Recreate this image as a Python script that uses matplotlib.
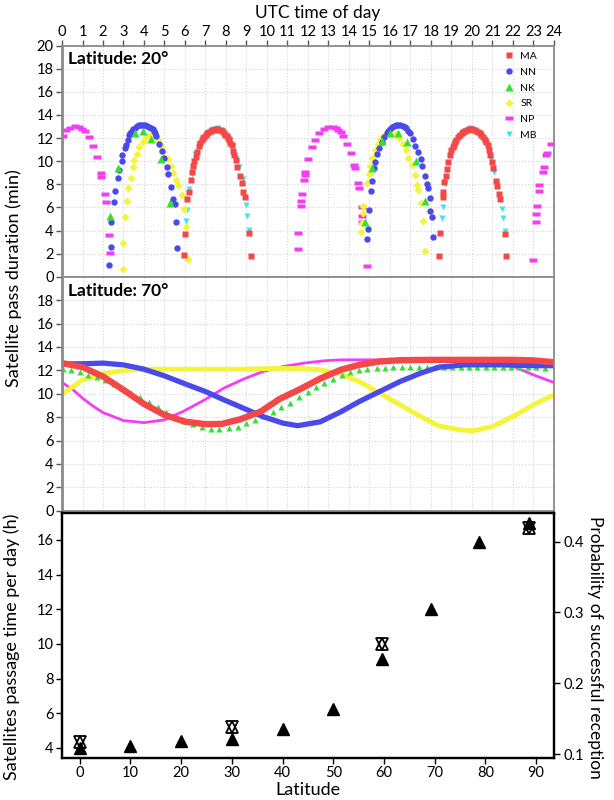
import matplotlib
matplotlib.use('Agg')
import matplotlib.pyplot as plt
from matplotlib.path import Path

plt.rcParams['font.family'] = ['Lato', 'DejaVu Sans']

# ---------------- Latitude 20 deg (scatter of passes) ----------------
MA20_t = [5.95, 6.00, 6.11, 6.20, 6.28, 6.34, 6.40, 6.44, 6.52, 6.60, 6.68, 6.75, 6.81, 6.88, 6.94, 7.02,
          7.09, 7.17, 7.26, 7.34, 7.41, 7.50, 7.58, 7.66, 7.74, 7.82, 7.90, 7.97, 8.04, 8.10, 8.16, 8.22,
          8.28, 8.35, 8.41, 8.49, 8.55, 8.68, 8.77, 8.84, 8.93, 9.14, 9.20,
          18.40, 18.44, 18.57, 18.60, 18.65, 18.72, 18.78, 18.85, 18.93, 19.00, 19.06, 19.12, 19.18, 19.25,
          19.33, 19.41, 19.50, 19.58, 19.68, 19.77, 19.86, 19.94, 20.02, 20.10, 20.20, 20.31, 20.39, 20.47,
          20.55, 20.63, 20.70, 20.77, 20.83, 20.88, 20.96, 21.04, 21.20, 21.25, 21.33, 21.37, 21.60, 21.68]
MA20_v = [1.87, 3.7, 6.7, 7.3, 8.36, 9.1, 9.57, 10.0, 10.4, 10.8, 11.3, 11.6, 11.8, 12.0, 12.1, 12.28,
          12.4, 12.52, 12.6, 12.68, 12.74, 12.77, 12.77, 12.74, 12.68, 12.58, 12.45, 12.3, 12.16, 12.0, 11.8, 11.6,
          11.4, 10.9, 10.5, 10.1, 9.5, 8.7, 8.15, 7.35, 6.9, 3.8, 1.79,
          1.79, 3.8, 6.9, 7.35, 8.2, 8.7, 9.3, 9.94, 10.5, 10.95, 11.2, 11.44, 11.65, 11.87,
          12.07, 12.25, 12.4, 12.53, 12.65, 12.74, 12.77, 12.77, 12.76, 12.74, 12.65, 12.53, 12.4, 12.25,
          12.07, 11.87, 11.65, 11.4, 10.95, 10.5, 9.94, 9.4, 8.3, 7.87, 7.2, 6.7, 3.7, 1.82]

NN20_t = [2.31, 2.37, 2.40, 2.54, 2.59, 2.72, 2.78, 2.91, 2.94, 3.06, 3.12, 3.20, 3.28, 3.34, 3.40, 3.48,
          3.56, 3.66, 3.76, 3.86, 3.97, 4.06, 4.16, 4.25, 4.34, 4.42, 4.49, 4.54, 4.59, 4.73, 4.89, 4.98,
          5.14, 5.19, 5.32, 5.43, 5.51, 5.56, 5.63,
          14.86, 14.94, 14.96, 15.06, 15.11, 15.22, 15.27, 15.38, 15.48, 15.60, 15.71, 15.84, 15.92, 16.00,
          16.10, 16.20, 16.30, 16.40, 16.51, 16.62, 16.72, 16.81, 16.90, 17.00, 17.14, 17.22, 17.38, 17.50,
          17.58, 17.71, 17.80, 17.85, 17.95, 17.98, 18.06, 18.11]
NN20_v = [0.98, 2.54, 4.7, 6.45, 7.43, 8.56, 9.2, 10.0, 10.5, 11.1, 11.44, 11.8, 12.25, 12.45, 12.6, 12.78,
          12.9, 13.02, 13.1, 13.15, 13.17, 13.14, 13.08, 13.0, 12.9, 12.78, 12.6, 12.42, 12.2, 11.5, 10.9, 10.3,
          9.5, 8.9, 7.8, 6.7, 6.3, 4.75, 2.45,
          3.26, 4.1, 5.8, 7.4, 8.3, 9.4, 9.9, 10.6, 11.1, 11.7, 12.1, 12.45, 12.63, 12.8,
          12.95, 13.05, 13.13, 13.17, 13.13, 13.05, 12.95, 12.83, 12.65, 12.45, 11.96, 11.3, 10.8, 10.2,
          9.57, 8.7, 8.07, 7.7, 6.8, 5.7, 5.2, 3.46]

NK20_t = [2.34, 2.72, 3.56, 3.97, 4.34, 4.81, 5.27, 14.80, 15.15, 15.60, 16.00, 16.40, 16.85, 17.27, 17.71]
NK20_v = [5.25, 9.45, 12.4, 12.6, 11.9, 10.2, 6.4, 4.7, 9.45, 11.75, 12.4, 12.45, 11.7, 10.0, 6.6]

SR20_t = [2.96, 2.99, 3.07, 3.19, 3.24, 3.35, 3.45, 3.53, 3.65, 3.77, 3.94, 4.10, 4.29, 4.50, 4.70, 4.81,
          4.94, 5.15, 5.32, 5.43, 5.56, 5.67, 5.84, 5.95, 6.03, 6.16,
          14.59, 14.62, 14.67, 14.70, 14.86, 14.98, 15.02, 15.15, 15.27, 15.40, 15.51, 15.71, 15.92, 16.24,
          16.46, 16.62, 16.78, 16.90, 17.10, 17.22, 17.33, 17.38, 17.50, 17.60, 17.72]
SR20_v = [0.66, 2.94, 5.2, 6.57, 7.7, 8.56, 9.5, 10.1, 10.66, 11.2, 11.7, 12.05, 12.25, 12.15, 11.8, 11.3,
          10.8, 10.15, 9.57, 9.0, 8.36, 7.93, 7.06, 5.9, 4.3, 1.5,
          3.84, 4.67, 5.5, 6.1, 8.15, 8.87, 9.57, 10.3, 10.95, 11.5, 11.96, 12.3, 12.45, 12.33,
          12.05, 11.5, 11.0, 10.3, 9.65, 8.8, 7.9, 7.5, 6.35, 4.8, 2.2]

NP20_t = [0.03, 0.20, 0.39, 0.63, 0.85, 0.96, 1.12, 1.32, 1.50, 1.72, 1.90, 1.92, 2.10, 2.13, 2.31, 2.34,
          11.53, 11.53, 11.66, 11.68, 11.70, 11.82, 11.84, 11.86, 12.02, 12.18, 12.34, 12.55, 12.78, 12.99,
          13.20, 13.37, 13.48, 13.60, 13.72, 13.92, 14.08, 14.26, 14.28, 14.45, 14.47, 14.62, 14.64, 14.66, 14.90,
          23.00, 23.12, 23.14, 23.16, 23.28, 23.30, 23.48, 23.50, 23.64, 23.66, 23.84]
NP20_v = [12.2, 12.7, 12.9, 13.05, 12.97, 12.8, 12.6, 12.1, 11.3, 10.4, 9.0, 8.6, 7.15, 6.5, 3.6, 2.1,
          3.8, 2.37, 6.1, 6.6, 7.2, 8.4, 8.8, 9.1, 10.15, 11.2, 11.8, 12.4, 12.8, 13.0,
          12.95, 12.85, 12.7, 12.55, 12.2, 11.5, 10.7, 9.65, 9.4, 8.1, 7.7, 6.05, 5.3, 4.7, 0.9,
          1.45, 4.75, 5.45, 6.1, 7.4, 7.9, 9.1, 9.5, 10.5, 10.7, 11.5]

MB20_t = [6.03, 6.08, 6.20, 6.33, 6.50, 6.70, 6.90, 7.10, 7.35, 7.60, 7.85, 8.05, 8.20, 8.33, 8.50, 8.65,
          8.81, 9.00, 9.05, 9.14,
          18.52, 18.57, 18.70, 18.80, 18.95, 19.15, 19.35, 19.60, 19.90, 20.20, 20.45, 20.65, 20.84, 20.95,
          21.10, 21.25, 21.45, 21.53, 21.60]
MB20_v = [4.84, 5.76, 7.6, 8.93, 10.6, 11.45, 12.0, 12.45, 12.75, 12.85, 12.6, 12.2, 11.8, 11.3, 10.3, 9.5,
          8.5, 6.2, 5.27, 4.04,
          5.05, 6.05, 8.0, 9.2, 10.6, 11.5, 12.15, 12.6, 12.85, 12.7, 12.3, 11.9, 10.95, 10.2,
          9.07, 8.0, 5.9, 5.05, 3.97]

# ---------------- Latitude 70 deg (continuous) ----------------
MA70_t = [0, 1, 2, 3, 4, 5, 6, 7, 7.8, 8.7, 9.7, 10.6, 11.6, 12.6, 13.6, 14.5, 15.5, 16.5, 18, 20, 22, 23, 24]
MA70_v = [12.62, 12.28, 11.47, 10.33, 9.13, 8.19, 7.62, 7.4, 7.42, 7.82, 8.48, 9.54, 10.38, 11.3, 12.05,
          12.47, 12.76, 12.87, 12.9, 12.9, 12.9, 12.85, 12.7]
NN70_t = [0, 1, 2, 3, 4, 5, 6, 7, 7.9, 8.85, 9.8, 10.8, 11.5, 12.6, 13.6, 14.5, 15.5, 16.5, 17.5, 18.4,
          19.7, 21.4, 23, 24]
NN70_v = [12.56, 12.56, 12.62, 12.47, 12.1, 11.53, 10.85, 10.19, 9.48, 8.77, 8.05, 7.48, 7.27, 7.6, 8.45,
          9.33, 10.19, 11.05, 11.76, 12.28, 12.47, 12.47, 12.4, 12.4]
SR70_t = [0, 0.55, 1, 2, 3, 4, 5.5, 7, 8.7, 10.3, 11.6, 12.6, 13.6, 14.5, 15.5, 16.5, 17.5, 18.4, 19.4,
          20.1, 21, 22, 23, 24]
SR70_v = [9.99, 10.62, 11.19, 11.7, 11.99, 12.1, 12.1, 12.1, 12.1, 12.16, 12.16, 12.05, 11.7, 11.05, 10.05,
          9.05, 8.05, 7.25, 6.91, 6.85, 7.19, 8.05, 9.05, 9.9]
NP70_t = [0, 0.55, 1, 1.5, 2, 3, 4, 5, 5.9, 6.9, 7.9, 8.85, 9.8, 10.8, 11.8, 12.8, 13.6, 15.5, 18, 21,
          21.7, 22.2, 23, 24]
NP70_v = [10.96, 10.33, 9.62, 8.96, 8.39, 7.71, 7.53, 7.77, 8.48, 9.42, 10.48, 11.25, 11.9, 12.33, 12.62,
          12.82, 12.9, 12.9, 12.9, 12.85, 12.6, 12.2, 11.62, 10.96]
NK70_t = [0.03, 0.45, 0.86, 1.27, 1.71, 2.12, 2.53, 2.94, 3.38, 3.79, 4.23, 4.67, 5.08, 5.53, 5.97, 6.41,
          6.83, 7.27, 7.68, 8.13, 8.57, 8.98, 9.43, 9.82, 10.28, 10.68, 11.12, 11.55, 11.98, 12.39, 12.80,
          13.20, 13.64, 14.05, 14.50, 14.90, 15.35, 15.76, 16.17, 16.58, 16.99, 17.40, 17.81, 18.22, 18.63,
          19.04, 19.45, 19.86, 20.27, 20.68, 21.09, 21.50, 21.91, 22.32, 22.73, 23.14, 23.55]
NK70_v = [12.1, 12.0, 11.82, 11.6, 11.42, 11.19, 10.85, 10.48, 10.1, 9.76, 9.33, 8.85, 8.48, 8.05, 7.71,
          7.42, 7.2, 6.99, 6.96, 7.05, 7.2, 7.48, 7.77, 8.11, 8.48, 8.85, 9.25, 9.7, 10.15, 10.55, 10.95,
          11.25, 11.6, 11.85, 12.05, 12.12, 12.19, 12.24, 12.28, 12.3, 12.3, 12.3, 12.3, 12.3, 12.3,
          12.3, 12.3, 12.3, 12.3, 12.3, 12.3, 12.3, 12.3, 12.3, 12.3, 12.27, 12.2]

# ---------------- Bottom panel ----------------
lat_time = [0, 10, 20, 30, 40, 50, 59.7, 69.3, 78.7, 88.6]
passage_h = [4.0, 4.14, 4.39, 4.52, 5.10, 6.27, 9.14, 11.99, 15.85, 17.0]
lat_prob = [0, 30, 59.7, 88.6]
prob_rx = [0.117, 0.138, 0.256, 0.419]

sat_names = ['MA', 'NN', 'NK', 'SR', 'NP', 'MB']
colors = {'MA': '#F24848', 'NN': '#4A4AEA', 'NK': '#33E033', 'SR': '#F4F43A',
          'NP': '#F53CF5', 'MB': '#3FE6E6'}
hours = list(range(0, 25))

np_marker = Path([(-1, -0.42), (1, -0.42), (1, 0.42), (-1, 0.42), (-1, -0.42)],
                 [Path.MOVETO, Path.LINETO, Path.LINETO, Path.LINETO, Path.CLOSEPOLY])

fig = plt.figure(figsize=(6.14, 8.0), dpi=100)
L, W = 0.101, 0.801
ax1 = fig.add_axes([L, 0.654, W, 0.289])
ax2 = fig.add_axes([L, 0.3616, W, 0.2924])
ax3 = fig.add_axes([L, 0.0525, W, 0.306])

frame_col = '#8a8a8a'
for ax in (ax1, ax2):
    ax.set_xlim(0, 24)
    ax.set_ylim(0, 20)
    ax.set_xticks(hours)
    ax.set_yticks(range(0, 21, 2))
    ax.grid(True, color='#d4d4d4', linestyle=':', linewidth=0.8)
    ax.set_axisbelow(True)
    for s in ax.spines.values():
        s.set_color(frame_col)
        s.set_linewidth(1.3)
    ax.spines['left'].set_linewidth(2.0)
    ax.tick_params(axis='y', direction='out', length=4, width=1, color='#555555', labelsize=10.5, pad=2)

ax1.xaxis.tick_top()
ax1.tick_params(axis='x', direction='out', length=4, width=1, color='#555555', labelsize=10.5, pad=1)
ax1.xaxis.set_label_position('top')
ax1.set_xlabel('UTC time of day', fontsize=12.5, labelpad=6)
ax1.xaxis.set_label_coords(0.52, 1.12)
ax2.tick_params(axis='x', length=0, labelbottom=False)
ax2.set_yticks(range(0, 19, 2))

series20 = {
    'NP': (NP20_t, NP20_v, dict(marker=np_marker, ms=5.5)),
    'MB': (MB20_t, MB20_v, dict(marker='v', ms=5)),
    'SR': (SR20_t, SR20_v, dict(marker='D', ms=3.6)),
    'NN': (NN20_t, NN20_v, dict(marker='o', ms=4.6)),
    'NK': (NK20_t, NK20_v, dict(marker='^', ms=5.2)),
    'MA': (MA20_t, MA20_v, dict(marker='s', ms=4.2)),
}
handles = {}
for name, (t, v, kw) in series20.items():
    h, = ax1.plot(t, v, linestyle='none', color=colors[name], mec='none', label=name, **kw)
    handles[name] = h
ax1.legend([handles[n] for n in sat_names], sat_names, loc='upper left',
           bbox_to_anchor=(0.885, 1.0), frameon=False, fontsize=7.5, handlelength=1.0,
           handletextpad=0.6, labelspacing=0.62, borderaxespad=0.2)
ax1.text(0.012, 0.975, 'Latitude: 20°', transform=ax1.transAxes, fontsize=12.5,
         fontweight='bold', va='top', ha='left')

ax2.plot(NP70_t, NP70_v, color=colors['NP'], lw=2.0)
ax2.plot(SR70_t, SR70_v, color=colors['SR'], lw=3.5)
ax2.plot(NK70_t, NK70_v, linestyle='none', marker='^', ms=4.8, color=colors['NK'], mec='none')
ax2.plot(NN70_t, NN70_v, color=colors['NN'], lw=3.8)
ax2.plot(MA70_t, MA70_v, color=colors['MA'], lw=4.6)
ax2.text(0.012, 0.975, 'Latitude: 70°', transform=ax2.transAxes, fontsize=12.5,
         fontweight='bold', va='top', ha='left')

fig.text(0.022, 0.652, 'Satellite pass duration (min)', rotation=90, fontsize=13,
         ha='center', va='center')

# bottom panel
ax3.set_xlim(-3.5, 93.5)
ax3.set_ylim(3.42, 17.54)
ax3.set_xticks(range(0, 91, 10))
ax3.set_yticks(range(4, 17, 2))
for s in ax3.spines.values():
    s.set_color('black')
    s.set_linewidth(1.6)
ax3.tick_params(direction='out', length=4, width=1, labelsize=10.5, pad=2)
ax3.plot(lat_time, passage_h, linestyle='none', marker='^', ms=8, color='black')
ax3.set_xlabel('Latitude', fontsize=13, labelpad=1)
ax3.set_ylabel('Satellites passage time per day (h)', fontsize=13)
ax3.yaxis.set_label_coords(-0.085, 0.455)

ax3r = ax3.twinx()
ax3r.set_ylim(0.0944, 0.440)
ax3r.set_yticks([0.1, 0.2, 0.3, 0.4])
ax3r.set_yticklabels(['0.1', '0.2', '0.3', '0.4'])
ax3r.tick_params(direction='out', length=4, width=1, labelsize=10.5, pad=3)
for s in ax3r.spines.values():
    s.set_color('black')
    s.set_linewidth(1.6)
ax3r.plot(lat_prob, prob_rx, linestyle='none', marker='^', ms=9, mfc='none', mec='black', mew=1.3)
ax3r.plot(lat_prob, prob_rx, linestyle='none', marker='v', ms=9, mfc='none', mec='black', mew=1.3)
ax3r.set_ylabel('Probability of successful reception', fontsize=12.5, rotation=-90)
ax3r.yaxis.set_label_coords(1.1, 0.45)

fig.savefig('out.png', dpi=100)
